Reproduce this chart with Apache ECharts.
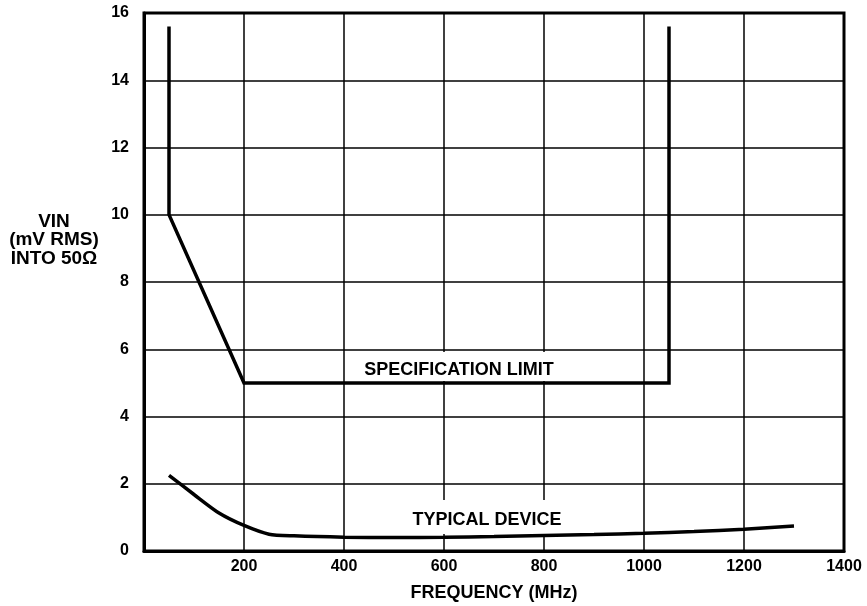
<!DOCTYPE html>
<html>
<head>
<meta charset="utf-8">
<script src="https://cdn.jsdelivr.net/npm/echarts@6/dist/echarts.min.js"></script>
<style>html,body{margin:0;padding:0;background:#fff}#c{width:867px;height:606px}</style>
</head>
<body>
<div id="c"></div>
<script>
// Data
const xTicks = [0, 200, 400, 600, 800, 1000, 1200, 1400];
const yTicks = [0, 2, 4, 6, 8, 10, 12, 14, 16];
const specFreq = [50, 50, 200, 1050, 1050];
const specVin = [15.6, 10, 5, 5, 15.6];
const typFreq = [50, 100, 150, 200, 250, 300, 400, 500, 600, 700, 800, 900, 1000, 1100, 1200, 1300];
const typVin = [2.25, 1.68, 1.13, 0.76, 0.5, 0.45, 0.41, 0.40, 0.41, 0.43, 0.46, 0.49, 0.53, 0.58, 0.65, 0.74];

const FONT = '"Liberation Sans", Arial, Helvetica, sans-serif';
const chart = echarts.init(document.getElementById('c'), null, {renderer: 'canvas'});
const pair = (xs, ys) => xs.map((x, i) => [x, ys[i]]);

chart.setOption({
  animation: false,
  backgroundColor: '#fff',
  grid: {left: 144, top: 13, width: 700, height: 538, outerBoundsMode: 'none', containLabel: false,
    show: true, borderColor: '#000', borderWidth: 3, backgroundColor: 'transparent'},
  xAxis: {
    type: 'value', min: 0, max: 1400, interval: 200,
    axisLine: {show: true, lineStyle: {color: '#000', width: 3}},
    axisTick: {show: false},
    splitLine: {show: true, lineStyle: {color: '#000', width: 1.5}},
    axisLabel: {color: '#000', fontFamily: FONT, fontWeight: 'bold', fontSize: 16, margin: 8,
      formatter: v => (xTicks.includes(v) && v !== 0) ? String(v) : ''},
    name: 'FREQUENCY (MHz)', nameLocation: 'middle', nameGap: 33,
    nameTextStyle: {color: '#000', fontFamily: FONT, fontWeight: 'bold', fontSize: 18}
  },
  yAxis: {
    type: 'value', min: 0, max: 16, interval: 2,
    axisLine: {show: true, lineStyle: {color: '#000', width: 3}},
    axisTick: {show: false},
    splitLine: {show: true, lineStyle: {color: '#000', width: 1.5}},
    axisLabel: {color: '#000', fontFamily: FONT, fontWeight: 'bold', fontSize: 16, margin: 15,
      formatter: v => yTicks.includes(v) ? String(v) : ''}
  },
  graphic: [
    {type: 'text', x: 54, y: 240, z: 100,
      style: {text: 'VIN\n(mV RMS)\nINTO 50Ω', fill: '#000', font: 'bold 19px ' + FONT, align: 'center', verticalAlign: 'middle', lineHeight: 18.5}},
    {type: 'rect', z: 50, shape: {x: 352, y: 352, width: 286, height: 29}, style: {fill: '#fff'}},
    {type: 'text', z: 100, x: 459, y: 370,
      style: {text: 'SPECIFICATION LIMIT', fill: '#000', font: 'bold 18px ' + FONT, align: 'center', verticalAlign: 'middle'}},
    {type: 'rect', z: 50, shape: {x: 400, y: 500, width: 190, height: 34}, style: {fill: '#fff'}},
    {type: 'text', z: 100, x: 487, y: 520,
      style: {text: 'TYPICAL DEVICE', fill: '#000', font: 'bold 18px ' + FONT, align: 'center', verticalAlign: 'middle'}}
  ],
  series: [
    {type: 'line', data: pair(specFreq, specVin), symbol: 'none', z: 60,
      lineStyle: {color: '#000', width: 3.5, join: 'miter'}},
    {type: 'line', data: pair(typFreq, typVin), symbol: 'none', smooth: 0.25, z: 60,
      lineStyle: {color: '#000', width: 3.5}}
  ]
});
</script>
</body>
</html>
